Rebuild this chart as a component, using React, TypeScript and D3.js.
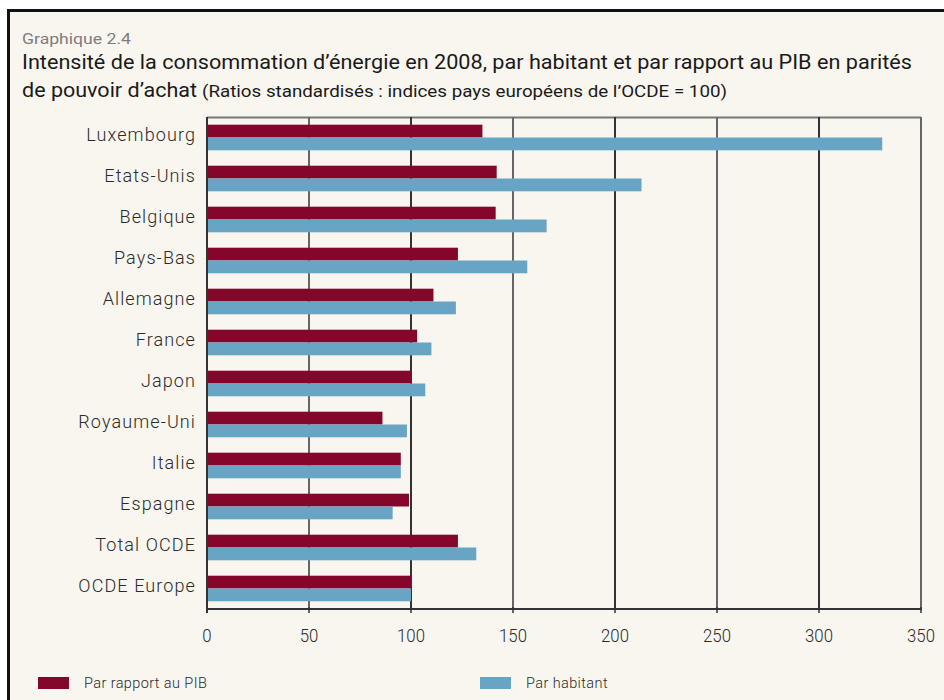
import { useRef, useEffect } from 'react';
import * as d3 from 'd3';

const WIDTH = 944;
const HEIGHT = 700;
const MARGIN = { top: 117, right: 23, bottom: 91, left: 207 };
const PIB_COLOR = '#84062b';
const HAB_COLOR = '#68a4c3';
const BG = '#f9f6f0';
const FONT = 'Roboto, "Noto Sans", sans-serif';

const categories = [
  'Luxembourg', 'Etats-Unis', 'Belgique', 'Pays-Bas', 'Allemagne', 'France',
  'Japon', 'Royaume-Uni', 'Italie', 'Espagne', 'Total OCDE', 'OCDE Europe',
];
const parPIB = [135, 142, 141.5, 123, 111, 103, 100, 86, 95, 99, 123, 100];
const parHabitant = [331, 213, 166.5, 157, 122, 110, 107, 98, 95, 91, 132, 100];
const ticks = [0, 50, 100, 150, 200, 250, 300, 350];

function App() {
  const svgRef = useRef<SVGSVGElement>(null);

  useEffect(() => {
    const svg = d3.select(svgRef.current);
    svg.selectAll('*').remove();

    // frame
    svg.append('rect').attr('width', WIDTH).attr('height', HEIGHT).attr('fill', '#fff');
    svg.append('rect').attr('x', 8).attr('y', 10).attr('width', WIDTH - 8).attr('height', HEIGHT - 10).attr('fill', BG);
    svg.append('path')
      .attr('d', `M8.5,${HEIGHT} V10.5 H${WIDTH}`)
      .attr('fill', 'none').attr('stroke', '#111').attr('stroke-width', 3);

    // titles
    svg.append('text')
      .attr('x', 22).attr('y', 44)
      .attr('fill', '#7d7d7d').attr('font-size', 15).attr('font-family', FONT)
      .attr('textLength', 109).attr('lengthAdjust', 'spacingAndGlyphs')
      .text('Graphique 2.4');
    svg.append('text')
      .attr('x', 22).attr('y', 69)
      .attr('fill', '#1a1a1a').attr('font-size', 21).attr('font-family', FONT)
      .attr('textLength', 890).attr('lengthAdjust', 'spacingAndGlyphs')
      .text('Intensité de la consommation d’énergie en 2008, par habitant et par rapport au PIB en parités');
    svg.append('text')
      .attr('x', 22).attr('y', 97)
      .attr('fill', '#1a1a1a').attr('font-size', 21).attr('font-family', FONT)
      .attr('textLength', 175).attr('lengthAdjust', 'spacingAndGlyphs')
      .text('de pouvoir d’achat');
    svg.append('text')
      .attr('x', 202).attr('y', 97)
      .attr('fill', '#1a1a1a').attr('font-size', 17).attr('font-family', FONT)
      .attr('textLength', 525).attr('lengthAdjust', 'spacingAndGlyphs')
      .text('(Ratios standardisés : indices pays européens de l’OCDE = 100)');

    const x = d3.scaleLinear()
      .domain([0, 350])
      .range([MARGIN.left, WIDTH - MARGIN.right]);

    const y = d3.scaleBand()
      .domain(categories)
      .range([MARGIN.top, HEIGHT - MARGIN.bottom]);

    const barH = 12.8;
    const g = svg.append('g');

    // plot border top
    g.append('line')
      .attr('x1', x(0)).attr('x2', x(350))
      .attr('y1', MARGIN.top + 0.5).attr('y2', MARGIN.top + 0.5)
      .attr('stroke', '#777').attr('stroke-width', 2);

    // Grid
    g.append('g')
      .selectAll('line')
      .data(ticks.slice(1))
      .join('line')
      .attr('x1', d => x(d)).attr('x2', d => x(d))
      .attr('y1', MARGIN.top).attr('y2', HEIGHT - MARGIN.bottom)
      .attr('stroke', (d, i) => (i % 2 === 0 ? '#666' : '#333'))
      .attr('stroke-width', 2);

    // Bars — PIB
    g.selectAll('.bar-pib')
      .data(categories)
      .join('rect')
      .attr('class', 'bar-pib')
      .attr('x', x(0))
      .attr('y', d => y(d)! + y.bandwidth() / 2 - barH)
      .attr('width', (_, i) => x(parPIB[i]) - x(0))
      .attr('height', barH)
      .attr('fill', PIB_COLOR);

    // Bars — habitant
    g.selectAll('.bar-hab')
      .data(categories)
      .join('rect')
      .attr('class', 'bar-hab')
      .attr('x', x(0))
      .attr('y', d => y(d)! + y.bandwidth() / 2)
      .attr('width', (_, i) => x(parHabitant[i]) - x(0))
      .attr('height', barH)
      .attr('fill', HAB_COLOR);

    // Y axis line
    g.append('line')
      .attr('x1', x(0)).attr('x2', x(0))
      .attr('y1', MARGIN.top).attr('y2', HEIGHT - MARGIN.bottom + 4)
      .attr('stroke', '#333').attr('stroke-width', 2);

    // Y labels
    g.append('g')
      .selectAll('text')
      .data(categories)
      .join('text')
      .attr('x', x(0) - 11)
      .attr('y', d => y(d)! + y.bandwidth() / 2 - 3)
      .attr('dy', '0.35em')
      .attr('text-anchor', 'end')
      .attr('fill', '#2a2a2a')
      .attr('font-size', 18)
      .attr('font-weight', 300)
      .attr('letter-spacing', 1.1)
      .attr('font-family', FONT)
      .text(d => d);

    // X axis
    const axisY = HEIGHT - MARGIN.bottom;
    g.append('line')
      .attr('x1', x(0) - 1).attr('x2', x(350) + 1)
      .attr('y1', axisY).attr('y2', axisY)
      .attr('stroke', '#333').attr('stroke-width', 2);
    g.append('g')
      .selectAll('line')
      .data(ticks)
      .join('line')
      .attr('x1', d => x(d)).attr('x2', d => x(d))
      .attr('y1', axisY - 2).attr('y2', axisY + 4)
      .attr('stroke', '#333').attr('stroke-width', 1.5);
    g.append('g')
      .selectAll('text')
      .data(ticks)
      .join('text')
      .attr('x', d => x(d))
      .attr('y', axisY + 33)
      .attr('text-anchor', 'middle')
      .attr('fill', '#2a2a2a')
      .attr('font-size', 19)
      .attr('font-weight', 300)
      .attr('font-family', FONT)
      .attr('textLength', d => String(d).length * 9.3)
      .attr('lengthAdjust', 'spacingAndGlyphs')
      .text(d => d);

    // Legend
    [
      { label: 'Par rapport au PIB', color: PIB_COLOR, x: 38 },
      { label: 'Par habitant', color: HAB_COLOR, x: 480 },
    ].forEach(item => {
      const lg = svg.append('g').attr('transform', `translate(${item.x}, 677)`);
      lg.append('rect').attr('width', 31).attr('height', 12).attr('fill', item.color);
      lg.append('text')
        .attr('x', 46).attr('y', 11)
        .attr('fill', '#2a2a2a').attr('font-size', 14.5).attr('font-weight', 300)
        .attr('letter-spacing', 0.4).attr('font-family', FONT)
        .text(item.label);
    });
  }, []);

  return (
    <svg
      ref={svgRef}
      width={WIDTH}
      height={HEIGHT}
      style={{ position: 'absolute', left: 0, top: 0, display: 'block' }}
    />
  );
}

export default App;
